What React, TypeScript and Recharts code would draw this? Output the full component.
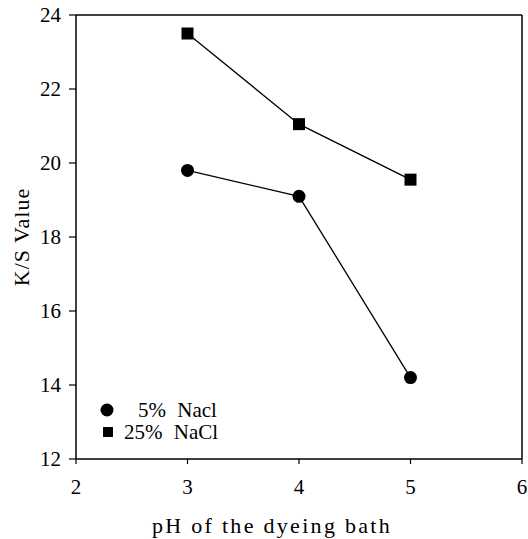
import { LineChart, Line, XAxis, YAxis, Legend, ReferenceLine } from "recharts";

const phValues = [3, 4, 5];
const lowSalt = [19.8, 19.1, 14.2];
const highSalt = [23.5, 21.05, 19.55];
const xTicks = [2, 3, 4, 5, 6];
const yTicks = [12, 14, 16, 18, 20, 22, 24];

const data = phValues.map((ph, i) => ({
  ph,
  low: lowSalt[i],
  high: highSalt[i],
}));

const FONT = "'Liberation Serif', 'DejaVu Serif', serif";

const squareDot = (props: any) => {
  const { cx, cy, index } = props;
  return <rect key={`sq-${index}`} x={cx - 6} y={cy - 6} width={12} height={12} fill="#000" />;
};

const circleDot = (props: any) => {
  const { cx, cy, index } = props;
  return <circle key={`ci-${index}`} cx={cx} cy={cy} r={6.5} fill="#000" />;
};

function LegendBox() {
  return (
    <div style={{ fontFamily: FONT, fontSize: 21, color: "#000", lineHeight: "22px", wordSpacing: 6 }}>
      <div style={{ display: "flex", alignItems: "center" }}>
        <svg width={16} height={16} style={{ marginRight: 23 }}>
          <circle cx={8} cy={8} r={6.5} fill="#000" />
        </svg>
        <span>5% Nacl</span>
      </div>
      <div style={{ display: "flex", alignItems: "center" }}>
        <svg width={16} height={16} style={{ marginRight: 9 }}>
          <rect x={4} y={3} width={10} height={10} fill="#000" />
        </svg>
        <span>25% NaCl</span>
      </div>
    </div>
  );
}

export default function App() {
  return (
    <div
      style={{
        position: "fixed",
        left: 0,
        top: 0,
        width: 528,
        height: 539,
        background: "#fff",
        overflow: "hidden",
      }}
    >
      <LineChart
        width={528}
        height={539}
        data={data}
        margin={{ top: 15, right: 6, bottom: 0, left: 20 }}
      >
        <XAxis
          dataKey="ph"
          type="number"
          domain={[2, 6]}
          ticks={xTicks}
          height={80}
          tickSize={5}
          tickMargin={15}
          axisLine={{ stroke: "#000", strokeWidth: 1.5 }}
          tickLine={{ stroke: "#000", strokeWidth: 1.2 }}
          tick={{ fill: "#000", fontSize: 21, fontFamily: FONT }}
          label={{
            value: "pH of the dyeing bath",
            position: "insideBottom",
            offset: 6,
            dx: -27,
            fill: "#000",
            fontSize: 22,
            fontFamily: FONT,
            style: { letterSpacing: 2.3 },
          }}
        />
        <YAxis
          type="number"
          domain={[12, 24]}
          ticks={yTicks}
          width={56}
          tickSize={7}
          tickMargin={8}
          axisLine={{ stroke: "#000", strokeWidth: 1.5 }}
          tickLine={{ stroke: "#000", strokeWidth: 1.2 }}
          tick={{ fill: "#000", fontSize: 21, fontFamily: FONT }}
          label={{
            value: "K/S Value",
            angle: -90,
            position: "center",
            dx: -27,
            fill: "#000",
            fontSize: 22,
            fontFamily: FONT,
            style: { letterSpacing: 1 },
          }}
        />
        <ReferenceLine y={24} stroke="#000" strokeWidth={1.5} />
        <ReferenceLine x={6} stroke="#000" strokeWidth={1.5} />
        <Legend
          layout="horizontal"
          verticalAlign="middle"
          align="center"
          content={() => <LegendBox />}
          wrapperStyle={{ left: 99, top: 399, width: 180 }}
        />
        <Line
          dataKey="high"
          stroke="#000"
          strokeWidth={1.3}
          dot={squareDot}
          legendType="square"
          isAnimationActive={false}
        />
        <Line
          dataKey="low"
          stroke="#000"
          strokeWidth={1.3}
          dot={circleDot}
          legendType="circle"
          isAnimationActive={false}
        />
      </LineChart>
    </div>
  );
}
